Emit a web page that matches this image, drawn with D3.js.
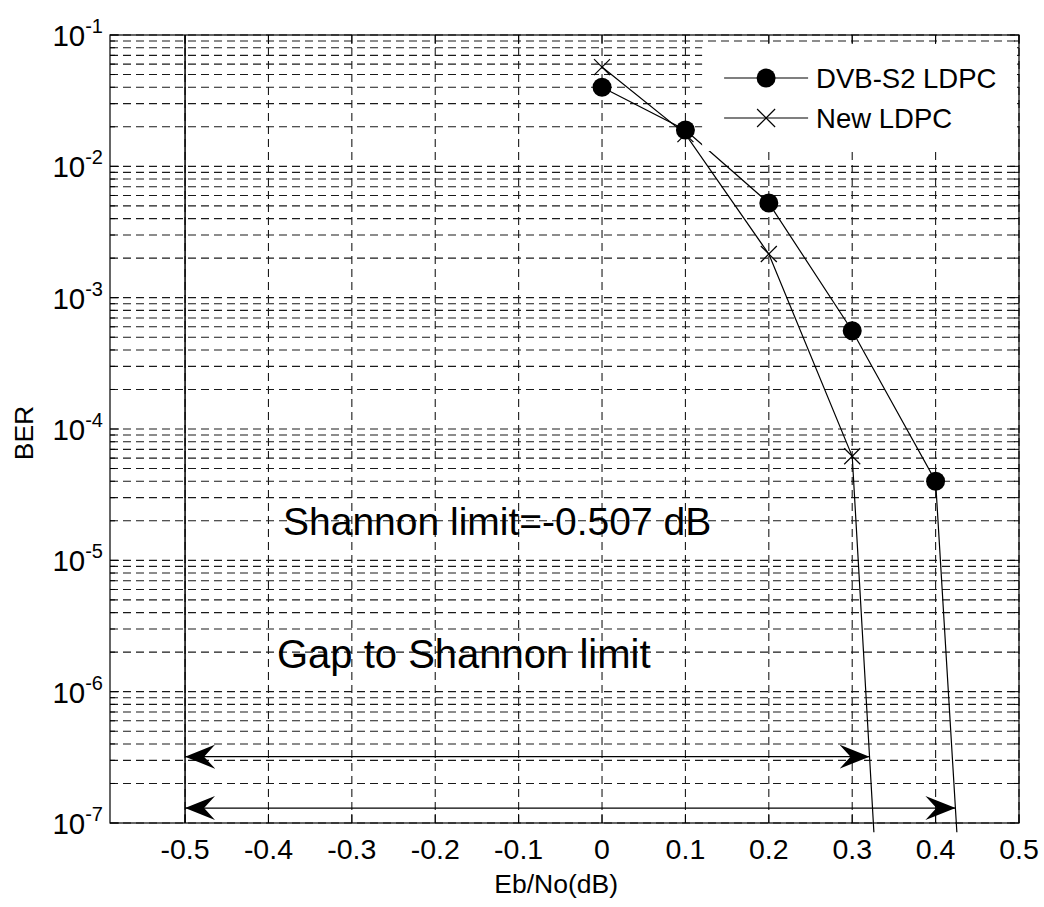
<!DOCTYPE html>
<html>
<head>
<meta charset="utf-8">
<script src="https://cdn.jsdelivr.net/npm/d3@7"></script>
<style>
  body { margin: 0; background: #fff; }
  text { font-family: "Liberation Sans", Arial, sans-serif; fill: #000; }
</style>
</head>
<body>
<div id="chart"></div>
<script>
// data
var ebno_dvb = [0, 0.1, 0.2, 0.3, 0.4, 0.4255];
var ber_dvb  = [0.040, 0.0189, 0.00525, 5.6e-4, 4.0e-5, 8.5e-8];
var ebno_new = [0, 0.1, 0.2, 0.3, 0.326];
var ber_new  = [0.057, 0.0176, 0.00215, 6.2e-5, 8.5e-8];
var series_names = ["DVB-S2 LDPC", "New LDPC"];

var x_ticks = [-0.5, -0.4, -0.3, -0.2, -0.1, 0, 0.1, 0.2, 0.3, 0.4, 0.5];
var y_exps  = [-7, -6, -5, -4, -3, -2, -1];

var limit_x = -0.5;                 // where the limit line is drawn
var arrow_ber = [3.2e-7, 1.3e-7];   // upper arrow ends on New LDPC, lower on DVB-S2

var width = 1044, height = 907;
var margin = {top: 35, right: 25, bottom: 84, left: 110};
var w = width - margin.left - margin.right;
var h = height - margin.top - margin.bottom;

var svg = d3.select("#chart")
    .append("svg")
    .attr("width", width)
    .attr("height", height);

var defs = svg.append("defs");
defs.append("marker")
    .attr("id", "ahead")
    .attr("viewBox", "0 0 30 24")
    .attr("refX", 30).attr("refY", 12)
    .attr("markerWidth", 30).attr("markerHeight", 24)
    .attr("markerUnits", "userSpaceOnUse")
    .attr("orient", "auto-start-reverse")
    .append("path")
    .attr("d", "M0,0 L30,12 L0,24 L11,12 Z")
    .attr("fill", "#000");

var g = svg.append("g")
    .attr("transform", "translate(" + margin.left + "," + margin.top + ")");

var x = d3.scaleLinear().domain([-0.59, 0.5]).range([0, w]);
var y = d3.scaleLog().domain([1e-7, 1e-1]).range([h, 0]);

// minor + major y values
var y_grid = [];
y_exps.forEach(function (e) {
    if (e == -1) { y_grid.push(Math.pow(10, e)); return; }
    for (var k = 1; k < 10; k++) y_grid.push(k * Math.pow(10, e));
});

var grid_dash = "8,5";
var grid_col = "#1a1a1a";

// horizontal grid
g.selectAll(".ygrid")
    .data(y_grid)
    .enter()
    .append("line")
    .attr("class", "ygrid")
    .attr("x1", 0).attr("x2", w)
    .attr("y1", d => y(d)).attr("y2", d => y(d))
    .attr("stroke", grid_col)
    .attr("stroke-width", 1.1)
    .attr("stroke-dasharray", grid_dash);

// vertical grid
g.selectAll(".xgrid")
    .data(x_ticks)
    .enter()
    .append("line")
    .attr("class", "xgrid")
    .attr("x1", d => x(d)).attr("x2", d => x(d))
    .attr("y1", 0).attr("y2", h)
    .attr("stroke", grid_col)
    .attr("stroke-width", 1.1)
    .attr("stroke-dasharray", grid_dash);

// ticks (inside, both sides)
var tick_len = 9, minor_len = 5;
g.selectAll(".xtickb")
    .data(x_ticks)
    .enter()
    .append("line")
    .attr("x1", d => x(d)).attr("x2", d => x(d))
    .attr("y1", h).attr("y2", h - tick_len)
    .attr("stroke", "#000");
g.selectAll(".xtickt")
    .data(x_ticks)
    .enter()
    .append("line")
    .attr("x1", d => x(d)).attr("x2", d => x(d))
    .attr("y1", 0).attr("y2", tick_len)
    .attr("stroke", "#000");

function is_major(v) {
    var l = Math.log10(v);
    return Math.abs(l - Math.round(l)) < 1e-9;
}
[0, w].forEach(function (x0) {
    var dir = x0 == 0 ? 1 : -1;
    g.selectAll(null)
        .data(y_grid)
        .enter()
        .append("line")
        .attr("x1", x0)
        .attr("x2", d => x0 + dir * (is_major(d) ? tick_len : minor_len))
        .attr("y1", d => y(d)).attr("y2", d => y(d))
        .attr("stroke", "#000");
});

// x tick labels
g.selectAll(".xlab")
    .data(x_ticks)
    .enter()
    .append("text")
    .attr("x", d => x(d))
    .attr("y", h + 36)
    .attr("text-anchor", "middle")
    .attr("font-size", 28.5)
    .text(d => d3.format("")(d).replace("−", "-"));

// y tick labels 10^e
var ylab = g.selectAll(".ylab")
    .data(y_exps)
    .enter()
    .append("text")
    .attr("x", -7)
    .attr("y", d => y(Math.pow(10, d)) + 11)
    .attr("text-anchor", "end")
    .attr("font-size", 29.5);
ylab.append("tspan").text("10");
ylab.append("tspan")
    .attr("dy", -13)
    .attr("font-size", 20)
    .text(d => "-" + Math.abs(d));

// axis labels
svg.append("text")
    .attr("x", margin.left + x(-0.055))
    .attr("y", 893)
    .attr("text-anchor", "middle")
    .attr("font-size", 26.5)
    .text("Eb/No(dB)");

svg.append("text")
    .attr("transform", "translate(33," + (margin.top + y(1e-4) + 4) + ") rotate(-90)")
    .attr("text-anchor", "middle")
    .attr("font-size", 26.5)
    .text("BER");

// Shannon limit line
g.append("line")
    .attr("x1", x(limit_x)).attr("x2", x(limit_x))
    .attr("y1", 0).attr("y2", h)
    .attr("stroke", "#000")
    .attr("stroke-width", 1.5);

// curves
var line_dvb = d3.line()
    .x((d, i) => x(ebno_dvb[i]))
    .y(d => y(d));
var line_new = d3.line()
    .x((d, i) => x(ebno_new[i]))
    .y(d => y(d));

g.append("path")
    .attr("d", line_dvb(ber_dvb))
    .attr("fill", "none")
    .attr("stroke", "#000")
    .attr("stroke-width", 1.2);
g.append("path")
    .attr("d", line_new(ber_new))
    .attr("fill", "none")
    .attr("stroke", "#000")
    .attr("stroke-width", 1.2);

function draw_cross(sel, s) {
    sel.append("line").attr("x1", -s).attr("y1", -s).attr("x2", s).attr("y2", s)
        .attr("stroke", "#000").attr("stroke-width", 1.2);
    sel.append("line").attr("x1", -s).attr("y1", s).attr("x2", s).attr("y2", -s)
        .attr("stroke", "#000").attr("stroke-width", 1.2);
}

// markers (last point of each curve is the drop-off, no marker)
g.selectAll(".m_new")
    .data(ber_new.slice(0, ber_new.length - 1))
    .enter()
    .append("g")
    .attr("transform", (d, i) => "translate(" + x(ebno_new[i]) + "," + y(d) + ")")
    .call(draw_cross, 8);

g.selectAll(".m_dvb")
    .data(ber_dvb.slice(0, ber_dvb.length - 1))
    .enter()
    .append("circle")
    .attr("cx", (d, i) => x(ebno_dvb[i]))
    .attr("cy", d => y(d))
    .attr("r", 9.5)
    .attr("fill", "#000");

// where a curve crosses a given BER
function crossing(xs, ys, b) {
    for (var i = 0; i < ys.length - 1; i++) {
        if (ys[i] >= b && ys[i + 1] <= b) {
            var t = (Math.log(ys[i]) - Math.log(b)) / (Math.log(ys[i]) - Math.log(ys[i + 1]));
            return xs[i] + t * (xs[i + 1] - xs[i]);
        }
    }
    return xs[xs.length - 1];
}
var arrow_end = [crossing(ebno_new, ber_new, arrow_ber[0]),
                 crossing(ebno_dvb, ber_dvb, arrow_ber[1])];

g.selectAll(".gap_arrow")
    .data(arrow_ber)
    .enter()
    .append("line")
    .attr("x1", x(limit_x))
    .attr("x2", (d, i) => x(arrow_end[i]))
    .attr("y1", d => y(d)).attr("y2", d => y(d))
    .attr("stroke", "#000")
    .attr("stroke-width", 1.2)
    .attr("marker-start", "url(#ahead)")
    .attr("marker-end", "url(#ahead)");

// annotations
g.append("text")
    .attr("x", 283 - margin.left)
    .attr("y", 535 - margin.top)
    .attr("font-size", 39)
    .text("Shannon limit=-0.507 dB");

g.append("text")
    .attr("x", 277 - margin.left)
    .attr("y", 668 - margin.top)
    .attr("font-size", 40)
    .text("Gap to Shannon limit");

// legend
var leg = g.append("g")
    .attr("transform", "translate(" + (x(0.12)) + ",10)");
leg.append("rect")
    .attr("x", 0).attr("y", 0)
    .attr("width", w - x(0.12) - 2)
    .attr("height", 106)
    .attr("fill", "#fff");

var leg_rows = leg.selectAll(".legrow")
    .data(series_names)
    .enter()
    .append("g")
    .attr("transform", (d, i) => "translate(0," + (33 + i * 40) + ")");
leg_rows.append("line")
    .attr("x1", 22).attr("x2", 106)
    .attr("stroke", "#000")
    .attr("stroke-width", 1.2);
leg_rows.append("text")
    .attr("x", 114)
    .attr("y", 10)
    .attr("font-size", 27.5)
    .text(d => d);
leg_rows.filter((d, i) => i == 0)
    .append("circle")
    .attr("cx", 64).attr("r", 9.5)
    .attr("fill", "#000");
leg_rows.filter((d, i) => i == 1)
    .append("g")
    .attr("transform", "translate(64,0)")
    .call(draw_cross, 9);

// frame
g.append("rect")
    .attr("width", w).attr("height", h)
    .attr("fill", "none")
    .attr("stroke", "#000")
    .attr("stroke-width", 1.2);
</script>
</body>
</html>
